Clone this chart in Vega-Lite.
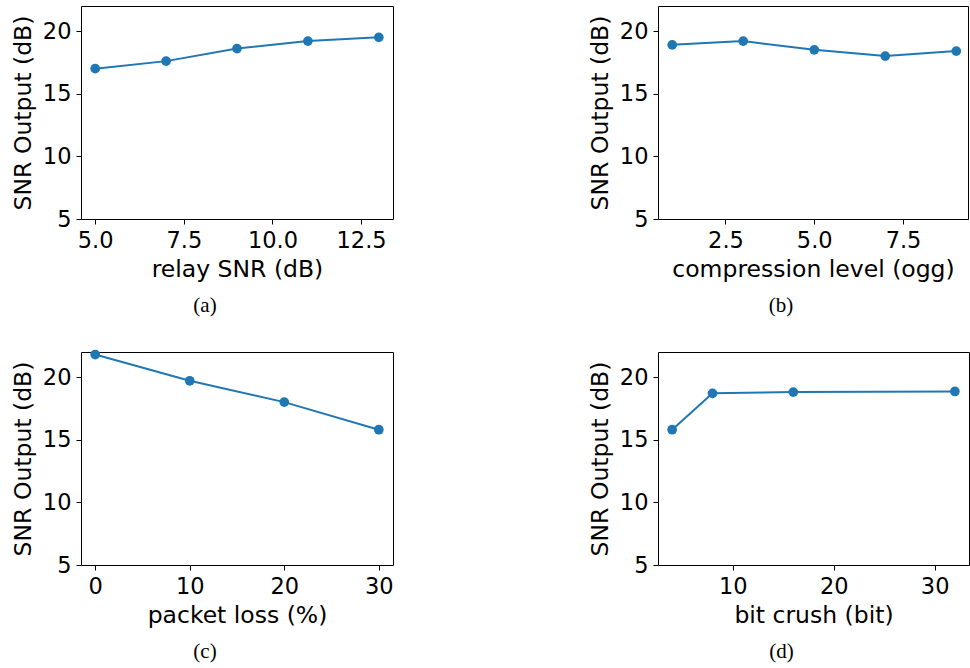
{
  "$schema": "https://vega.github.io/schema/vega-lite/v6.json",
  "background": "white",
  "padding": {"left": 10, "top": 5, "right": 0, "bottom": 0},
  "columns": 2,
  "bounds": "flush",
  "spacing": {"column": 265, "row": 133},
  "config": {
    "font": "DejaVu Sans",
    "view": {"stroke": "#000", "strokeWidth": 1},
    "axis": {
      "grid": false,
      "domain": false,
      "labelFontSize": 22.5,
      "titleFontSize": 23.5,
      "titleFontWeight": "normal",
      "labelColor": "#000",
      "titleColor": "#000",
      "tickColor": "#000",
      "tickSize": 5,
      "labelPadding": 5,
      "labelFlush": false,
      "labelOverlap": false
    },
    "axisY": {"titlePadding": 7},
    "axisX": {"titlePadding": 6},
    "title": {"font": "Liberation Serif", "fontSize": 21, "fontWeight": "normal", "color": "#000", "orient": "bottom", "dx": -32, "offset": 14}
  },
  "concat": [
    {
      "width": 312, "height": 213,
      "title": {"text": "(a)"},
      "data": {"values": [
        {"x": 5, "y": 17.0}, {"x": 7, "y": 17.6}, {"x": 9, "y": 18.6}, {"x": 11, "y": 19.2}, {"x": 13, "y": 19.5}
      ]},
      "encoding": {
        "x": {"field": "x", "type": "quantitative", "title": "relay SNR (dB)", "scale": {"domain": [4.6, 13.4], "nice": false, "zero": false}, "axis": {"values": [5, 7.5, 10, 12.5], "format": ".1f"}},
        "y": {"field": "y", "type": "quantitative", "title": "SNR Output (dB)", "scale": {"domain": [5, 22], "nice": false, "zero": false}, "axis": {"values": [5, 10, 15, 20]}}
      },
      "layer": [
        {"mark": {"type": "line", "color": "#1f77b4", "strokeWidth": 2}},
        {"mark": {"type": "point", "filled": true, "color": "#1f77b4", "size": 95, "opacity": 1}}
      ]
    },
    {
      "width": 310, "height": 213,
      "title": {"text": "(b)"},
      "data": {"values": [
        {"x": 1, "y": 18.9}, {"x": 3, "y": 19.2}, {"x": 5, "y": 18.5}, {"x": 7, "y": 18.0}, {"x": 9, "y": 18.4}
      ]},
      "encoding": {
        "x": {"field": "x", "type": "quantitative", "title": "compression level (ogg)", "scale": {"domain": [0.6, 9.33], "nice": false, "zero": false}, "axis": {"values": [2.5, 5, 7.5], "format": ".1f"}},
        "y": {"field": "y", "type": "quantitative", "title": "SNR Output (dB)", "scale": {"domain": [5, 22], "nice": false, "zero": false}, "axis": {"values": [5, 10, 15, 20]}}
      },
      "layer": [
        {"mark": {"type": "line", "color": "#1f77b4", "strokeWidth": 2}},
        {"mark": {"type": "point", "filled": true, "color": "#1f77b4", "size": 95, "opacity": 1}}
      ]
    },
    {
      "width": 312, "height": 213,
      "title": {"text": "(c)"},
      "data": {"values": [
        {"x": 0, "y": 21.8}, {"x": 10, "y": 19.7}, {"x": 20, "y": 18.0}, {"x": 30, "y": 15.8}
      ]},
      "encoding": {
        "x": {"field": "x", "type": "quantitative", "title": "packet loss (%)", "scale": {"domain": [-1.5, 31.5], "nice": false, "zero": false}, "axis": {"values": [0, 10, 20, 30]}},
        "y": {"field": "y", "type": "quantitative", "title": "SNR Output (dB)", "scale": {"domain": [5, 22], "nice": false, "zero": false}, "axis": {"values": [5, 10, 15, 20]}}
      },
      "layer": [
        {"mark": {"type": "line", "color": "#1f77b4", "strokeWidth": 2}},
        {"mark": {"type": "point", "filled": true, "color": "#1f77b4", "size": 95, "opacity": 1}}
      ]
    },
    {
      "width": 311, "height": 213,
      "title": {"text": "(d)"},
      "data": {"values": [
        {"x": 4, "y": 15.8}, {"x": 8, "y": 18.7}, {"x": 16, "y": 18.8}, {"x": 32, "y": 18.85}
      ]},
      "encoding": {
        "x": {"field": "x", "type": "quantitative", "title": "bit crush (bit)", "scale": {"domain": [2.6, 33.4], "nice": false, "zero": false}, "axis": {"values": [10, 20, 30]}},
        "y": {"field": "y", "type": "quantitative", "title": "SNR Output (dB)", "scale": {"domain": [5, 22], "nice": false, "zero": false}, "axis": {"values": [5, 10, 15, 20]}}
      },
      "layer": [
        {"mark": {"type": "line", "color": "#1f77b4", "strokeWidth": 2}},
        {"mark": {"type": "point", "filled": true, "color": "#1f77b4", "size": 95, "opacity": 1}}
      ]
    }
  ]
}
